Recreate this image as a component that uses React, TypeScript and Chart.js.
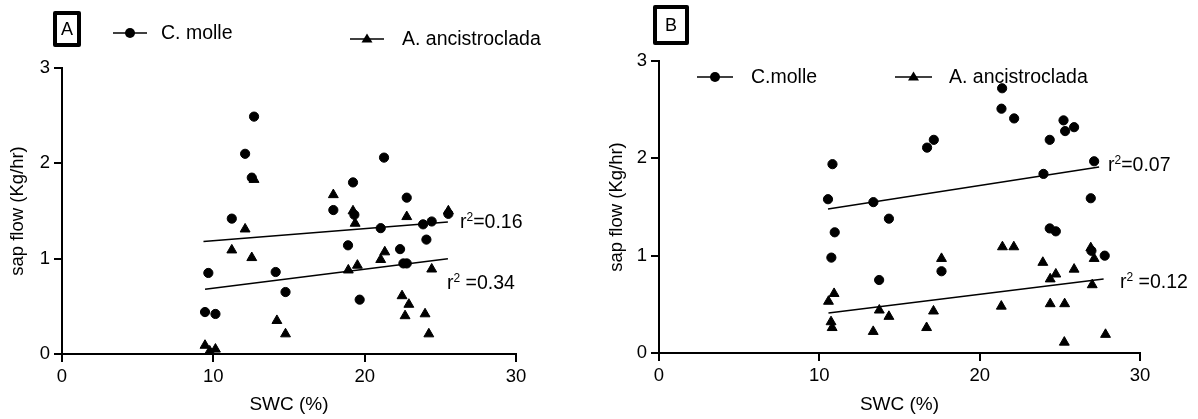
import React, { useEffect, useRef } from "react";
import { Chart, registerables } from "chart.js";
Chart.register(...registerables);

// ---------- DATA ----------
const xTickValues = [0, 10, 20, 30];
const yTickValues = [0, 1, 2, 3];

// Panel A — C. molle
const aMolleX = [12.69, 12.10, 12.54, 11.22, 9.67, 14.12, 21.28, 19.23, 22.78, 17.93, 19.32, 25.53, 21.06, 23.86, 24.43, 24.08, 18.90, 22.34, 22.56, 22.78, 9.45, 10.14, 14.77, 19.67];
const aMolleY = [2.49, 2.10, 1.85, 1.42, 0.85, 0.86, 2.06, 1.80, 1.64, 1.51, 1.46, 1.47, 1.32, 1.36, 1.39, 1.20, 1.14, 1.10, 0.95, 0.95, 0.44, 0.42, 0.65, 0.57];
// Panel A — A. ancistroclada
const aAncX = [12.69, 12.10, 11.22, 12.54, 17.93, 19.23, 19.37, 22.78, 25.53, 21.33, 21.06, 19.52, 18.92, 24.43, 22.47, 22.92, 22.67, 23.99, 24.24, 14.20, 14.77, 9.45, 9.76, 10.14];
const aAncY = [1.83, 1.31, 1.09, 1.01, 1.67, 1.50, 1.37, 1.44, 1.50, 1.07, 0.99, 0.93, 0.88, 0.89, 0.61, 0.52, 0.40, 0.42, 0.21, 0.35, 0.21, 0.09, 0.03, 0.05];
// Panel A — fitted lines (end points)
const aMolleFitX = [9.35, 25.5];
const aMolleFitY = [1.18, 1.385];
const aAncFitX = [9.45, 25.5];
const aAncFitY = [0.68, 1.0];

// Panel B — C. molle
const bMolleX = [10.82, 10.54, 13.37, 10.96, 10.75, 14.34, 13.73, 21.40, 21.36, 22.15, 25.23, 25.33, 25.89, 24.37, 17.14, 16.72, 27.14, 23.98, 26.93, 24.37, 24.75, 26.97, 27.80, 17.62];
const bMolleY = [1.94, 1.58, 1.55, 1.24, 0.98, 1.38, 0.75, 2.72, 2.51, 2.41, 2.39, 2.28, 2.32, 2.19, 2.19, 2.11, 1.97, 1.84, 1.59, 1.28, 1.25, 1.05, 1.00, 0.84];
// Panel B — A. ancistroclada
const bAncX = [21.42, 22.13, 17.62, 23.94, 26.93, 27.14, 25.89, 24.75, 24.40, 27.02, 10.92, 10.57, 10.73, 10.80, 13.74, 14.34, 13.36, 16.69, 17.12, 21.35, 24.40, 25.30, 25.28, 27.85];
const bAncY = [1.09, 1.09, 0.97, 0.93, 1.08, 0.97, 0.86, 0.81, 0.76, 0.70, 0.61, 0.53, 0.32, 0.26, 0.44, 0.375, 0.22, 0.26, 0.43, 0.48, 0.505, 0.505, 0.11, 0.19];
// Panel B — fitted lines
const bMolleFitX = [10.54, 27.45];
const bMolleFitY = [1.48, 1.91];
const bAncFitX = [10.57, 27.73];
const bAncFitY = [0.41, 0.76];

const xTitle = "SWC (%)";
const yTitle = "sap flow (Kg/hr)";

// ---------- HELPERS ----------
const FONT = "'Liberation Sans', Arial, Helvetica, sans-serif";
const toPts = (xs: number[], ys: number[]) => xs.map((x, i) => ({ x, y: ys[i] }));

function buildConfig(p: any) {
  const scatter = (xs: number[], ys: number[], style: string, r: number) => ({
    type: "scatter",
    data: toPts(xs, ys),
    pointStyle: style,
    pointRadius: r,
    pointHoverRadius: r,
    backgroundColor: "#000",
    borderColor: "#000",
    borderWidth: 1,
    showLine: false,
    clip: false,
  });
  const fit = (xs: number[], ys: number[]) => ({
    type: "scatter",
    data: toPts(xs, ys),
    showLine: true,
    borderColor: "#000",
    borderWidth: 1.5,
    pointRadius: 0,
    pointHoverRadius: 0,
    fill: false,
    clip: false,
  });
  return {
    type: "scatter",
    data: {
      datasets: [
        fit(p.mFitX, p.mFitY),
        fit(p.aFitX, p.aFitY),
        scatter(p.mX, p.mY, "circle", 4.6),
        scatter(p.aX, p.aY, "triangle", 5.7),
      ],
    },
    options: {
      responsive: false,
      animation: false,
      events: [],
      layout: { padding: { top: p.padTop, right: p.padRight, left: 0, bottom: 0 } },
      plugins: { legend: { display: false }, tooltip: { enabled: false } },
      scales: {
        x: {
          type: "linear",
          min: 0,
          max: 30,
          afterBuildTicks: (s: any) => { s.ticks = xTickValues.map((v) => ({ value: v })); },
          afterFit: (s: any) => { s.height = p.xHeight; },
          grid: { display: true, drawOnChartArea: false, drawTicks: true, tickLength: 8, color: "#000", lineWidth: 2 },
          border: { display: true, color: "#000", width: 2 },
          ticks: { color: "#000", padding: 4, font: { family: FONT, size: 18.5 }, maxRotation: 0 },
          title: { display: true, text: xTitle, color: "#000", font: { family: FONT, size: 19 }, padding: { top: 0, bottom: 3 } },
        },
        y: {
          type: "linear",
          min: 0,
          max: 3,
          afterBuildTicks: (s: any) => { s.ticks = yTickValues.map((v) => ({ value: v })); },
          afterFit: (s: any) => { s.width = p.yWidth; },
          grid: { display: true, drawOnChartArea: false, drawTicks: true, tickLength: 8, color: "#000", lineWidth: 2 },
          border: { display: true, color: "#000", width: 2 },
          ticks: { color: "#000", padding: 4, font: { family: FONT, size: 18.5 } },
          title: { display: true, text: yTitle, color: "#000", font: { family: FONT, size: 18.5 }, padding: { top: p.yTitlePad, bottom: 0 } },
        },
      },
    },
  };
}

function Panel(props: { left: number; width: number; cfg: any }) {
  const ref = useRef<HTMLCanvasElement>(null);
  useEffect(() => {
    const chart = new Chart(ref.current as HTMLCanvasElement, buildConfig(props.cfg) as any);
    return () => chart.destroy();
  }, []);
  return (
    <canvas
      ref={ref}
      width={props.width}
      height={419}
      style={{ position: "absolute", left: props.left, top: 0, width: props.width, height: 419 }}
    />
  );
}

function Text(props: { left: number; cy: number; size?: number; children: any }) {
  return (
    <div
      style={{
        position: "absolute",
        left: props.left,
        top: props.cy,
        transform: "translateY(-50%)",
        fontFamily: FONT,
        fontSize: props.size || 19.5,
        color: "#000",
        whiteSpace: "nowrap",
        lineHeight: 1,
      }}
    >
      {props.children}
    </div>
  );
}

function R2(props: { left: number; cy: number; value: string; gap?: boolean }) {
  return (
    <Text left={props.left} cy={props.cy}>
      r<sup style={{ fontSize: 12, verticalAlign: "7px", lineHeight: 0 }}>2</sup>
      {props.gap ? " " : ""}={props.value}
    </Text>
  );
}

function LegendMark(props: { left: number; cy: number; width: number; kind: "circle" | "triangle" }) {
  const h = 14;
  const mid = props.width / 2;
  return (
    <svg
      width={props.width}
      height={h}
      style={{ position: "absolute", left: props.left, top: props.cy - h / 2 }}
    >
      <line x1={0} y1={h / 2} x2={props.width} y2={h / 2} stroke="#000" strokeWidth={1.6} />
      {props.kind === "circle" ? (
        <circle cx={mid} cy={h / 2} r={5} fill="#000" />
      ) : (
        <polygon points={`${mid},${h / 2 - 5.5} ${mid + 5.5},${h / 2 + 3.5} ${mid - 5.5},${h / 2 + 3.5}`} fill="#000" />
      )}
    </svg>
  );
}

function Box(props: { left: number; top: number; w: number; h: number; label: string }) {
  return (
    <div
      style={{
        position: "absolute",
        left: props.left,
        top: props.top,
        width: props.w,
        height: props.h,
        boxSizing: "border-box",
        border: "4px solid #000",
        borderRadius: 2,
        display: "flex",
        alignItems: "center",
        justifyContent: "center",
        fontFamily: FONT,
        fontSize: 18,
        color: "#000",
      }}
    >
      {props.label}
    </div>
  );
}

export default function App() {
  const cfgA = {
    mX: aMolleX, mY: aMolleY, aX: aAncX, aY: aAncY,
    mFitX: aMolleFitX, mFitY: aMolleFitY, aFitX: aAncFitX, aFitY: aAncFitY,
    padTop: 68, padRight: 84, xHeight: 65, yWidth: 62, yTitlePad: 7,
  };
  const cfgB = {
    mX: bMolleX, mY: bMolleY, aX: bAncX, aY: bAncY,
    mFitX: bMolleFitX, mFitY: bMolleFitY, aFitX: bAncFitX, aFitY: bAncFitY,
    padTop: 61, padRight: 58, xHeight: 66, yWidth: 59, yTitlePad: 6,
  };
  return (
    <div style={{ position: "fixed", left: 0, top: 0, width: 1198, height: 419, background: "#fff", overflow: "hidden" }}>
      <Panel left={0} width={600} cfg={cfgA} />
      <Panel left={600} width={598} cfg={cfgB} />

      <Box left={53} top={11} w={28} h={36} label="A" />
      <LegendMark left={113} cy={33} width={34} kind="circle" />
      <Text left={161} cy={33}>C. molle</Text>
      <LegendMark left={350} cy={39} width={34} kind="triangle" />
      <Text left={402} cy={39}>A. ancistroclada</Text>
      <R2 left={460} cy={222} value="0.16" />
      <R2 left={447} cy={283} value="0.34" gap />

      <Box left={653} top={5} w={36} h={40} label="B" />
      <LegendMark left={697} cy={77} width={36} kind="circle" />
      <Text left={751} cy={77}>C.molle</Text>
      <LegendMark left={895} cy={77} width={37} kind="triangle" />
      <Text left={949} cy={77}>A. ancistroclada</Text>
      <R2 left={1108} cy={165} value="0.07" />
      <R2 left={1120} cy={282} value="0.12" gap />
    </div>
  );
}
